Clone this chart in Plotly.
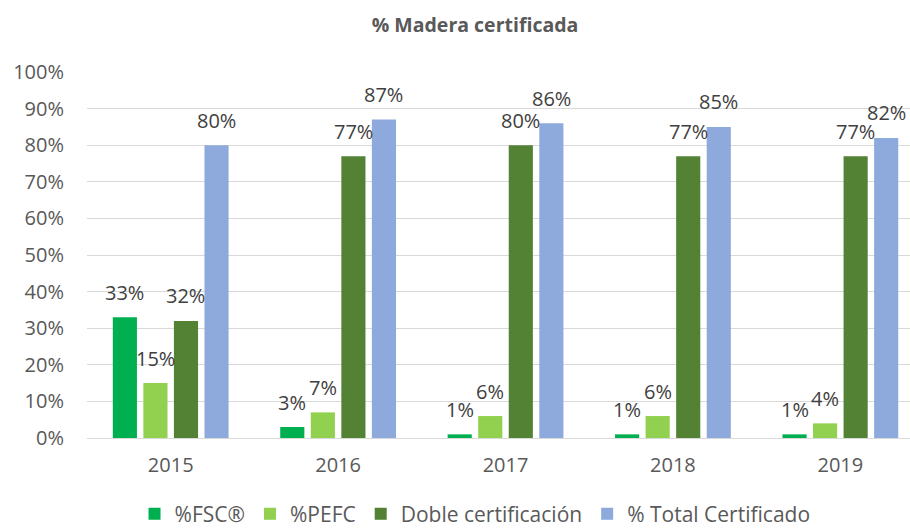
import plotly.graph_objects as go

years = ["2015", "2016", "2017", "2018", "2019"]
fsc = [33, 3, 1, 1, 1]
pefc = [15, 7, 6, 6, 4]
doble = [32, 77, 80, 77, 77]
total = [80, 87, 86, 85, 82]

series = [
    ("%FSC®", fsc, "#00B050"),
    ("%PEFC", pefc, "#92D050"),
    ("Doble certificación", doble, "#548235"),
    ("% Total Certificado", total, "#8EA9DB"),
]

FONT = "Open Sans, sans-serif"
BARGAP = 0.27
BARGROUPGAP = 0.21

fig = go.Figure()
for name, vals, color in series:
    fig.add_trace(go.Bar(
        x=years, y=vals, name=name,
        marker=dict(color=color, line=dict(width=0)),
        cliponaxis=False,
    ))

# value labels centred over each bar of the group, a fixed gap above its top
n = len(series)
slot = (1 - BARGAP) / n
annotations = []
for i, (name, vals, color) in enumerate(series):
    offset = (i - (n - 1) / 2) * slot
    for j, v in enumerate(vals):
        annotations.append(dict(
            x=j + offset, y=v, xref="x", yref="y",
            text=f"{v}%", showarrow=False,
            xanchor="center", yanchor="middle", yshift=25,
            font=dict(size=20, color="#404040", family=FONT),
        ))

fig.update_layout(
    width=910, height=530,
    margin=dict(l=87, r=0, t=72, b=92, autoexpand=False),
    paper_bgcolor="white", plot_bgcolor="white",
    barmode="group", bargap=BARGAP, bargroupgap=BARGROUPGAP,
    font=dict(family=FONT, color="#595959"),
    title=dict(text="<b>% Madera certificada</b>", x=0.4715, xanchor="center",
               xref="paper", y=0.953, yanchor="middle",
               font=dict(size=19.5, color="#595959", family=FONT)),
    legend=dict(orientation="h", x=0.4715, xanchor="center", y=-0.208,
                yanchor="middle", font=dict(size=21, color="#595959", family=FONT),
                itemwidth=30, traceorder="normal"),
    annotations=annotations,
    xaxis=dict(range=[-0.5, 4.416], showgrid=False, showline=True,
               linecolor="#D9D9D9", linewidth=1, ticks="",
               ticklabelstandoff=9,
               tickfont=dict(size=20, color="#595959", family=FONT)),
    yaxis=dict(range=[0, 100], dtick=10, ticksuffix="%", showgrid=True,
               gridcolor="#D9D9D9", gridwidth=1, zeroline=False, ticks="",
               ticklabelstandoff=22,
               tickfont=dict(size=20, color="#595959", family=FONT)),
)

fig.write_html("out.html")
